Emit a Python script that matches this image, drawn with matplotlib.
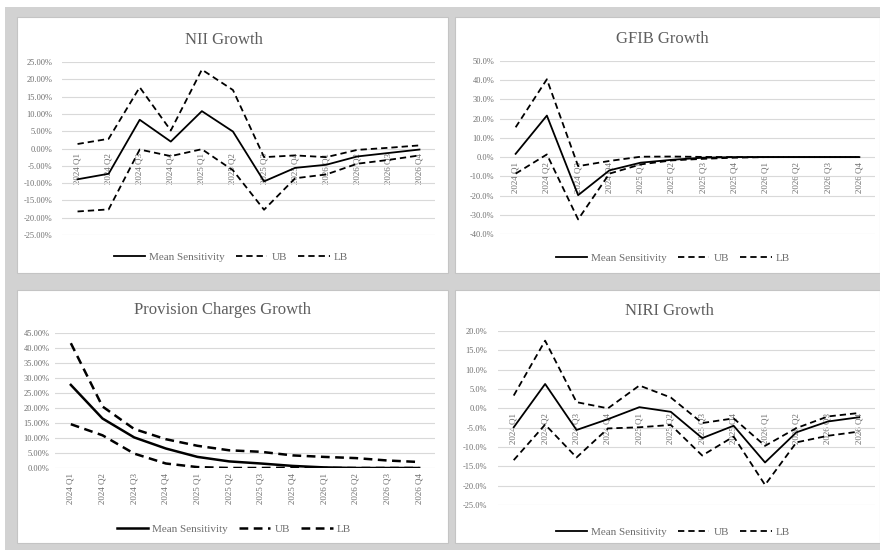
import matplotlib
matplotlib.use('Agg')
import matplotlib.pyplot as plt
from matplotlib.patches import Rectangle
from matplotlib.lines import Line2D
from matplotlib.ticker import MultipleLocator, FuncFormatter

plt.rcParams['font.family'] = ['Liberation Serif', 'DejaVu Serif']

# ---------------- data (growth, %) ----------------
quarters = ['2024 Q1', '2024 Q2', '2024 Q3', '2024 Q4',
            '2025 Q1', '2025 Q2', '2025 Q3', '2025 Q4',
            '2026 Q1', '2026 Q2', '2026 Q3', '2026 Q4']

nii_mean = [-8.9, -7.3, 8.3, 2.0, 10.8, 4.9, -9.5, -5.6, -4.7, -2.3, -1.3, -0.3]
nii_ub = [1.3, 2.8, 17.7, 5.2, 22.8, 16.9, -2.5, -2.0, -2.5, -0.4, 0.2, 0.9]
nii_lb = [-18.2, -17.6, -0.3, -2.2, -0.2, -6.3, -17.7, -8.6, -7.5, -4.4, -3.3, -2.0]

gfib_mean = [1.7, 21.6, -19.8, -6.9, -2.9, -1.4, -0.3, 0.0, 0.0, 0.0, 0.0, 0.0]
gfib_ub = [15.5, 40.5, -4.7, -2.0, 0.2, 0.3, 0.1, 0.0, 0.0, 0.0, 0.0, 0.0]
gfib_lb = [-8.6, 1.4, -32.4, -8.6, -3.8, -1.7, -0.9, -0.3, 0.0, 0.0, 0.0, 0.0]

prov_mean = [27.7, 16.5, 10.2, 6.5, 3.7, 2.2, 1.5, 0.7, 0.2, 0.0, 0.0, 0.0]
prov_ub = [41.6, 20.5, 13.0, 9.6, 7.4, 5.9, 5.4, 4.2, 3.7, 3.3, 2.5, 2.0]
prov_lb = [14.6, 10.9, 4.8, 1.5, 0.3, 0.0, 0.0, 0.1, 0.0, 0.0, 0.0, 0.0]

niri_mean = [-4.9, 6.3, -5.6, -2.8, 0.3, -0.9, -7.7, -4.5, -14.0, -6.2, -3.4, -2.3]
niri_ub = [3.3, 17.5, 1.6, 0.0, 5.9, 2.8, -3.8, -2.6, -9.7, -5.1, -2.1, -1.2]
niri_lb = [-13.4, -4.2, -12.7, -5.2, -4.9, -4.3, -12.2, -7.3, -19.8, -8.8, -7.1, -6.0]

W, H = 880, 550
TXT = '#6e6e6e'
DASH = (0, (3.5, 2.2))

fig = plt.figure(figsize=(W / 100, H / 100), dpi=100, facecolor='white')


def frac(x0, y0, x1, y1):
    # pixel box (top-left origin) -> figure fraction [l, b, w, h]
    return [x0 / W, 1 - y1 / H, (x1 - x0) / W, (y1 - y0) / H]


# grey background + white chart panels
fig.patches.append(Rectangle((5 / W, 0), 875 / W, 543 / H, transform=fig.transFigure,
                             fc='#d2d2d2', ec='none', zorder=-2))
for px in [(17, 17, 448, 273), (455, 17, 880, 273), (17, 290, 448, 543), (455, 290, 880, 543)]:
    l, b, w, h = frac(*px)
    fig.patches.append(Rectangle((l, b), w, h, transform=fig.transFigure,
                                 fc='white', ec='#c4c4c4', lw=0.8, zorder=-1))


def chart(box, title, tpos, lpos, mean, ub, lb, lo, hi, step, fmt, ypad, lw=1.3):
    ax = fig.add_axes(frac(*box))
    ax.set_facecolor('none')
    x = range(len(quarters))
    ax.plot(x, mean, color='black', lw=lw)
    ax.plot(x, ub, color='black', lw=lw, ls=DASH)
    ax.plot(x, lb, color='black', lw=lw, ls=DASH)
    ax.set_xlim(-0.5, len(quarters) - 0.5)
    ax.set_ylim(lo, hi)
    ax.yaxis.set_major_locator(MultipleLocator(step))
    ax.yaxis.set_major_formatter(FuncFormatter(lambda v, p: fmt.format(v + 0.0)))
    ax.grid(axis='y', color='#d9d9d9', lw=0.8)
    ax.set_axisbelow(True)
    for s in ax.spines.values():
        s.set_visible(False)
    ax.spines['bottom'].set_position(('data', 0))
    ax.set_xticks(list(x), quarters, rotation=90)
    ax.tick_params(axis='x', length=0, pad=3.5, labelsize=6.5, labelcolor=TXT)
    ax.tick_params(axis='y', length=0, pad=ypad, labelsize=6, labelcolor=TXT)

    fig.text(tpos[0] / W, 1 - tpos[1] / H, title, ha='center', va='baseline',
             fontsize=12, color='#5f5f5f')
    handles = [Line2D([], [], color='black', lw=lw),
               Line2D([], [], color='black', lw=lw, ls=DASH),
               Line2D([], [], color='black', lw=lw, ls=DASH)]
    ax.legend(handles, ['Mean Sensitivity', 'UB', 'LB'], loc='center', ncol=3,
              bbox_to_anchor=(lpos[0] / W, 1 - lpos[1] / H), bbox_transform=fig.transFigure,
              frameon=False, fontsize=8, labelcolor=TXT, handlelength=2.8,
              handletextpad=0.4, columnspacing=1.0, borderpad=0)
    return ax


chart((62, 62, 435, 235), 'NII Growth', (224, 44), (231, 257),
      nii_mean, nii_ub, nii_lb, -25, 25, 5, '{:.2f}%', 7)
chart((500, 61, 875, 234), 'GFIB Growth', (662, 43), (673, 258),
      gfib_mean, gfib_ub, gfib_lb, -40, 50, 10, '{:.1f}%', 4)
chart((55, 333, 435, 468), 'Provision Charges Growth', (222, 314), (234, 529),
      prov_mean, prov_ub, prov_lb, 0, 45, 5, '{:.2f}%', 4, lw=1.8)
chart((498, 331, 875, 505), 'NIRI Growth', (669, 315), (673, 532),
      niri_mean, niri_ub, niri_lb, -25, 20, 5, '{:.1f}%', 8)

fig.savefig('out.png', dpi=100, facecolor=fig.get_facecolor())
